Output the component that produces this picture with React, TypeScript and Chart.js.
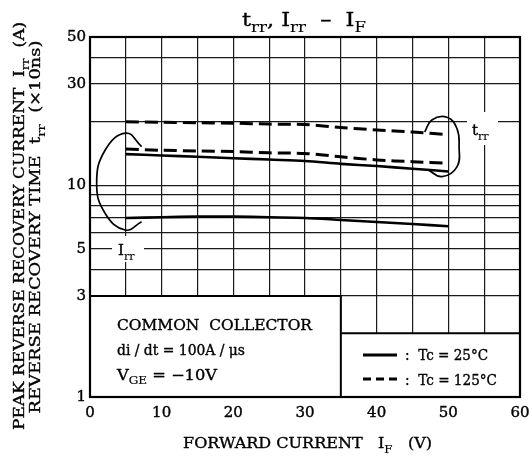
import React, { useEffect, useRef } from 'react';
import { Chart, registerables } from 'chart.js';
Chart.register(...registerables);

// ---- data ----
const forwardCurrent = [5, 10, 15, 20, 25, 30, 35, 40, 45, 50];
const trr125 = [19.9, 19.8, 19.7, 19.6, 19.4, 19.3, 18.7, 18.2, 17.8, 17.3];
const irr125 = [14.8, 14.6, 14.5, 14.4, 14.2, 14.1, 13.6, 13.15, 12.9, 12.7];
const trr25 = [14.0, 13.8, 13.6, 13.4, 13.2, 13.0, 12.6, 12.3, 11.95, 11.6];
const irr25 = [7.0, 7.05, 7.1, 7.1, 7.05, 7.0, 6.85, 6.7, 6.55, 6.4];

// loops marking curve groups (data units)
const irrLoopX = [7.2, 5.0, 2.1, 0.93, 2.1, 4.9, 7.2];
const irrLoopY = [15.2, 17.6, 14.6, 10.2, 7.36, 6.14, 6.72];
const trrLoopX = [46.7, 47.7, 49.8, 51.2, 51.5, 51.2, 49.1, 47.2];
const trrLoopY = [17.8, 20.3, 20.9, 18.5, 15.2, 12.2, 10.96, 11.8];

const yGridValues = [1, 2, 3, 4, 5, 6, 7, 8, 9, 10, 20, 30, 40, 50];
const yTickLabels = [1, 3, 5, 10, 30, 50];
const xGridValues = [0, 5, 10, 15, 20, 25, 30, 35, 40, 45, 50, 55, 60];
const xTickLabels = [0, 10, 20, 30, 40, 50, 60];

const FONT = '"DejaVu Serif", "Liberation Serif", serif';

type Seg = { t: string; sub?: boolean };

function drawRich(
  ctx: CanvasRenderingContext2D,
  segs: Seg[],
  x: number,
  y: number,
  size: number,
  align: 'left' | 'center',
  targetW?: number
) {
  const subSize = size * 0.74;
  const widths = segs.map((s) => {
    ctx.font = `${s.sub ? subSize : size}px ${FONT}`;
    return ctx.measureText(s.t).width;
  });
  const total = widths.reduce((a, b) => a + b, 0);
  const sx = targetW ? targetW / total : 1;
  ctx.save();
  ctx.translate(x, y);
  ctx.scale(sx, 1);
  let cx = align === 'center' ? -total / 2 : 0;
  ctx.fillStyle = '#000';
  ctx.strokeStyle = '#000';
  ctx.textBaseline = 'alphabetic';
  ctx.textAlign = 'left';
  segs.forEach((s, i) => {
    ctx.font = `${s.sub ? subSize : size}px ${FONT}`;
    ctx.lineWidth = s.sub ? 0.15 : 0.35;
    const yy = s.sub ? size * 0.3 : 0;
    ctx.fillText(s.t, cx, yy);
    ctx.strokeText(s.t, cx, yy);
    cx += widths[i];
  });
  ctx.restore();
}

const overlayPlugin = {
  id: 'overlay',
  beforeDatasetsDraw(chart: any) {
    const { ctx, chartArea } = chart;
    const xs = chart.scales.x;
    const ys = chart.scales.y;
    ctx.save();
    // condition box
    const bx0 = xs.getPixelForValue(0), bx1 = xs.getPixelForValue(35);
    const by0 = ys.getPixelForValue(3), by1 = ys.getPixelForValue(1);
    ctx.fillStyle = '#fff';
    ctx.fillRect(bx0, by0, bx1 - bx0, by1 - by0);
    // legend box
    const lx0 = xs.getPixelForValue(35), lx1 = xs.getPixelForValue(60);
    const ly0 = ys.getPixelForValue(2), ly1 = ys.getPixelForValue(1);
    ctx.fillRect(lx0, ly0, lx1 - lx0, ly1 - ly0);
    ctx.strokeStyle = '#000';
    ctx.lineWidth = 2;
    ctx.beginPath();
    ctx.moveTo(bx0, by0); ctx.lineTo(bx1, by0); ctx.lineTo(bx1, by1);
    ctx.moveTo(lx0, ly0); ctx.lineTo(lx1, ly0);
    ctx.stroke();
    // frame
    ctx.lineWidth = 2.2;
    ctx.strokeRect(chartArea.left, chartArea.top, chartArea.right - chartArea.left, chartArea.bottom - chartArea.top);
    ctx.restore();
  },
  afterDatasetsDraw(chart: any) {
    const { ctx, chartArea } = chart;
    const L = chartArea.left, T = chartArea.top, B = chartArea.bottom;
    ctx.save();
    // curve labels with white background
    ctx.fillStyle = '#fff';
    ctx.fillRect(L + 22, T + 199, 32, 26);
    drawRich(ctx, [{ t: 'I' }, { t: 'rr', sub: true }], L + 28, T + 218, 15, 'left');
    ctx.fillStyle = '#fff';
    ctx.fillRect(L + 377, T + 75, 31, 33);
    drawRich(ctx, [{ t: 't' }, { t: 'rr', sub: true }], L + 382, T + 98, 15, 'left');

    // condition text
    drawRich(ctx, [{ t: 'COMMON  COLLECTOR' }], L + 27, B - 67, 14.5, 'left', 195);
    drawRich(ctx, [{ t: 'di / dt = 100A / μs' }], L + 27, B - 42, 14.5, 'left', 128);
    drawRich(ctx, [{ t: 'V' }, { t: 'GE', sub: true }, { t: ' = −10V' }], L + 27, B - 17, 14.5, 'left', 100);

    // legend
    ctx.strokeStyle = '#000';
    ctx.lineWidth = 3;
    ctx.beginPath();
    ctx.moveTo(L + 273, B - 42); ctx.lineTo(L + 307, B - 42);
    ctx.stroke();
    ctx.setLineDash([8, 5]);
    ctx.beginPath();
    ctx.moveTo(L + 273, B - 18); ctx.lineTo(L + 308, B - 18);
    ctx.stroke();
    ctx.setLineDash([]);
    drawRich(ctx, [{ t: ':  Tc = 25°C' }], L + 315, B - 37, 14.5, 'left', 83);
    drawRich(ctx, [{ t: ':  Tc = 125°C' }], L + 315, B - 12, 14.5, 'left', 92);

    // title
    drawRich(ctx, [{ t: 't' }, { t: 'rr', sub: true }, { t: ', I' }, { t: 'rr', sub: true }, { t: '  –  I' }, { t: 'F', sub: true }], 242, 26, 19, 'left', 124);

    // x-axis title
    drawRich(ctx, [{ t: 'FORWARD CURRENT   I' }, { t: 'F', sub: true }, { t: '   (V)' }], 183, 448, 15, 'left', 249);

    // y-axis titles
    ctx.save();
    ctx.translate(24, 226);
    ctx.rotate(-Math.PI / 2);
    drawRich(ctx, [{ t: 'PEAK REVERSE RECOVERY CURRENT  I' }, { t: 'rr', sub: true }, { t: '  (A)' }], 0, 0, 15, 'center', 408);
    ctx.restore();
    ctx.save();
    ctx.translate(40, 227);
    ctx.rotate(-Math.PI / 2);
    drawRich(ctx, [{ t: 'REVERSE RECOVERY TIME  t' }, { t: 'rr', sub: true }, { t: '  (×10ns)' }], 0, 0, 15, 'center', 373);
    ctx.restore();
    ctx.restore();
  },
};

function toPoints(xs: number[], ys: number[]) {
  return xs.map((x, i) => ({ x, y: ys[i] }));
}

export default function App() {
  const ref = useRef<HTMLCanvasElement>(null);
  useEffect(() => {
    if (!ref.current) return;
    const line = (data: number[], dashed: boolean) => ({
      data: toPoints(forwardCurrent, data),
      borderColor: '#000',
      borderWidth: dashed ? 3 : 2.6,
      borderDash: dashed ? [13, 6] : [],
      pointRadius: 0,
      tension: 0.3,
      fill: false,
    });
    const loop = (xs: number[], ys: number[]) => ({
      data: toPoints(xs, ys),
      borderColor: '#000',
      borderWidth: 1.7,
      pointRadius: 0,
      tension: 0.45,
      fill: false,
    });
    const chart = new Chart(ref.current, {
      type: 'line',
      data: {
        datasets: [
          line(trr125, true),
          line(irr125, true),
          line(trr25, false),
          line(irr25, false),
          loop(irrLoopX, irrLoopY),
          loop(trrLoopX, trrLoopY),
        ] as any,
      },
      options: {
        animation: false,
        responsive: false,
        layout: { padding: { top: 37, right: 12, left: 0, bottom: 0 } },
        plugins: { legend: { display: false }, tooltip: { enabled: false }, title: { display: false } },
        scales: {
          x: {
            type: 'linear',
            min: 0,
            max: 60,
            afterBuildTicks: (s: any) => {
              s.ticks = xGridValues.map((v) => ({ value: v }));
            },
            afterFit: (s: any) => {
              s.height = 63;
              s.paddingLeft = 0;
              s.paddingRight = 0;
            },
            ticks: {
              autoSkip: false,
              maxRotation: 0,
              padding: 7,
              color: '#000',
              textStrokeColor: '#000',
              textStrokeWidth: 0.4,
              font: { family: FONT, size: 15 },
              callback: (v: any) => (xTickLabels.includes(Number(v)) ? String(v) : ''),
            },
            grid: { color: '#1a1a1a', lineWidth: 1.2, drawTicks: false },
            border: { display: false },
          },
          y: {
            type: 'logarithmic',
            min: 1,
            max: 50,
            afterBuildTicks: (s: any) => {
              s.ticks = yGridValues.map((v) => ({ value: v }));
            },
            afterFit: (s: any) => {
              s.width = 90;
              s.paddingTop = 0;
              s.paddingBottom = 0;
            },
            ticks: {
              autoSkip: false,
              padding: 4,
              color: '#000',
              textStrokeColor: '#000',
              textStrokeWidth: 0.4,
              font: { family: FONT, size: 15 },
              callback: (v: any) => (yTickLabels.includes(Number(v)) ? String(v) : ''),
            },
            grid: { color: '#1a1a1a', lineWidth: 1.2, drawTicks: false },
            border: { display: false },
          },
        },
      },
      plugins: [overlayPlugin],
    });
    return () => chart.destroy();
  }, []);
  return (
    <div style={{ position: 'absolute', left: 0, top: 0, width: 532, height: 460, background: '#fff' }}>
      <canvas ref={ref} width={532} height={460} />
    </div>
  );
}
